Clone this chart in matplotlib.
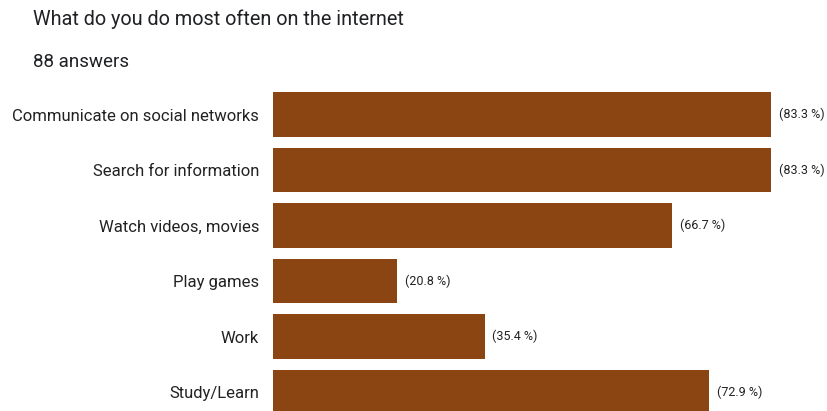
import matplotlib.pyplot as plt

plt.rcParams['font.family'] = ['Roboto', 'DejaVu Sans']

activities = ["Communicate on social networks", "Search for information",
              "Watch videos, movies", "Play games", "Work", "Study/Learn"]
percents = [83.3, 83.3, 66.7, 20.8, 35.4, 72.9]

fig = plt.figure(figsize=(8.27, 4.11), dpi=100)
ax = fig.add_axes([273 / 827, 0, 554 / 827, 325 / 411])

y = list(range(len(activities)))
ax.barh(y, percents, height=0.8, color="#8B4513")

for i, p in enumerate(percents):
    ax.text(p + 1.3, i, "(%.1f %%)" % p, va="center", ha="left",
            fontsize=9, color="#222222")

ax.set_yticks(y)
ax.set_yticklabels(activities, fontsize=12, color="#222222")
ax.tick_params(axis="y", length=0, pad=10)
ax.set_xticks([])
ax.set_xlim(0, 92.67)
ax.set_ylim(5.342, -0.514)
for s in ax.spines.values():
    s.set_visible(False)

fig.text(33 / 827, 1 - 19 / 411, "What do you do most often on the internet",
         fontsize=14.3, va="center", ha="left", color="#202124")
fig.text(33 / 827, 1 - 62 / 411, "88 answers",
         fontsize=13.5, va="center", ha="left", color="#202124")

fig.savefig("out.png", dpi=100)
